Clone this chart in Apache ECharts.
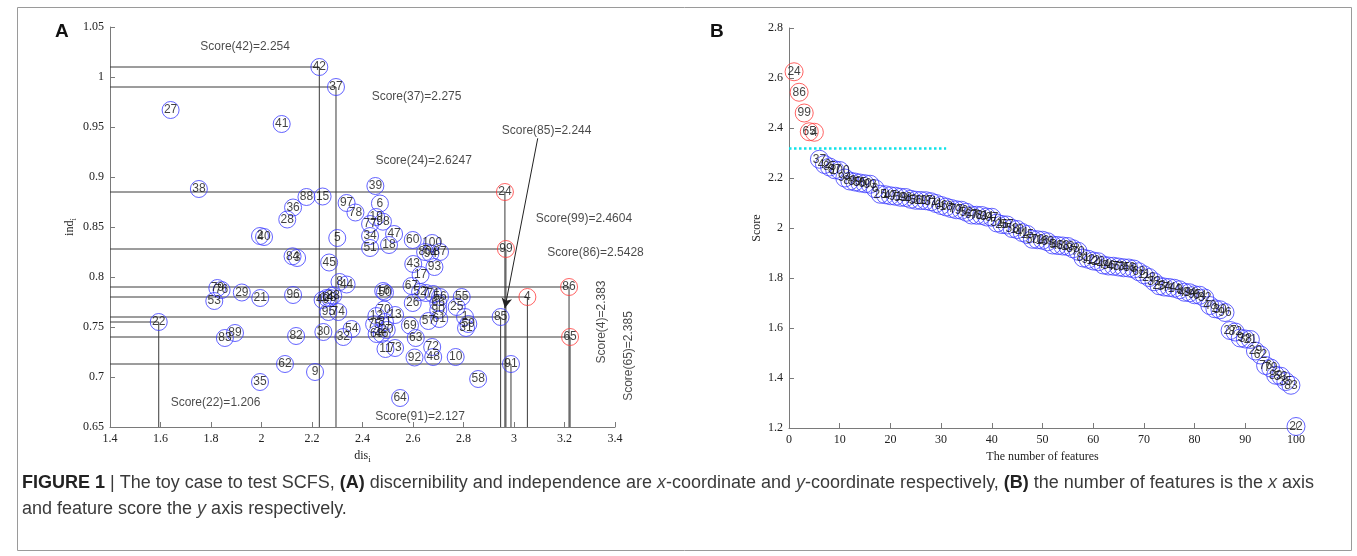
<!DOCTYPE html>
<html><head><meta charset="utf-8">
<script src="https://cdn.jsdelivr.net/npm/echarts@6/dist/echarts.min.js"></script>
<style>html,body{margin:0;padding:0;background:#fff}#c{width:1357px;height:556px}</style>
</head><body><div id="c"></div>
<script>
// ---------- Panel A: discernibility (dis_i) and independence (ind_i) of features 1..100 ----------
const featDis = [2.806,1.994,2.141,3.053,2.300,2.469,2.651,2.309,2.212,2.769,
 2.491,2.455,2.529,2.258,2.242,2.482,2.630,2.505,2.454,2.496,
 1.995,1.593,2.271,2.964,2.773,2.599,1.640,2.102,1.922,2.245,
 2.810,2.324,2.284,2.430,1.994,2.125,2.295,1.752,2.451,2.010,
 2.080,2.229,2.601,2.337,2.268,2.476,2.525,2.680,2.242,2.489,
 2.430,2.628,1.813,2.357,2.793,2.707,2.661,2.858,2.819,2.599,
 2.704,2.093,2.611,2.549,3.222,2.700,2.594,2.456,2.588,2.485,
 2.680,2.676,2.529,2.304,2.446,1.842,2.430,2.372,1.825,2.648,
 2.489,2.137,1.855,2.123,2.947,3.218,2.707,2.178,1.895,2.700,
 2.988,2.606,2.685,2.669,2.265,2.125,2.337,2.481,2.968,2.676];
const featInd = [0.760,0.841,0.819,0.780,0.839,0.8735,0.784,0.795,0.705,0.720,
 0.728,0.761,0.762,0.779,0.8805,0.786,0.802,0.832,0.860,0.747,
 0.779,0.755,0.779,0.885,0.770,0.774,0.967,0.8575,0.7845,0.745,
 0.749,0.740,0.7815,0.841,0.695,0.8695,0.990,0.888,0.891,0.840,
 0.953,1.010,0.813,0.7925,0.8145,0.743,0.843,0.720,0.777,0.7845,
 0.829,0.785,0.776,0.748,0.780,0.780,0.756,0.698,0.753,0.837,
 0.758,0.713,0.739,0.679,0.740,0.774,0.791,0.743,0.7515,0.7675,
 0.783,0.730,0.729,0.765,0.7527,0.787,0.853,0.8645,0.789,0.825,
 0.755,0.741,0.739,0.8207,0.760,0.790,0.825,0.880,0.744,0.767,
 0.713,0.7195,0.810,0.8237,0.765,0.782,0.874,0.8553,0.828,0.834];
const redFeatures = [24,99,86,4,65];
const guideFeatures = [42,37,24,99,86,4,85,22,65,91];
const scoreNotes = ['Score(42)=2.254','Score(37)=2.275','Score(85)=2.244','Score(24)=2.6247',
 'Score(99)=2.4604','Score(86)=2.5428','Score(4)=2.383','Score(65)=2.385','Score(22)=1.206','Score(91)=2.127'];

// ---------- Panel B: features sorted by score ----------
const rankLabels = [24,86,99,65,4,37,42,85,87,100,94,80,39,55,60,93,6,25,1,47,
 91,59,98,43,56,19,17,31,71,66,18,7,77,90,52,67,78,61,34,97,
 51,26,57,58,10,41,15,50,72,16,69,5,48,63,13,88,70,81,92,12,
 20,44,36,45,73,75,46,8,68,11,28,33,23,54,74,14,3,49,84,95,
 64,32,40,2,30,96,27,82,9,38,21,29,62,76,79,89,53,35,83,22];
const rankScores = [2.625,2.543,2.460,2.385,2.383,2.275,2.254,2.244,2.233,2.230,
 2.200,2.188,2.184,2.180,2.177,2.175,2.157,2.135,2.133,2.129,
 2.127,2.123,2.122,2.115,2.111,2.110,2.109,2.105,2.098,2.090,
 2.084,2.078,2.073,2.071,2.063,2.052,2.051,2.050,2.044,2.043,
 2.020,2.014,2.012,1.998,1.994,1.982,1.974,1.955,1.953,1.951,
 1.945,1.932,1.930,1.928,1.926,1.917,1.907,1.880,1.875,1.868,
 1.865,1.852,1.848,1.847,1.844,1.841,1.840,1.836,1.825,1.813,
 1.802,1.785,1.769,1.764,1.762,1.759,1.753,1.743,1.741,1.733,
 1.731,1.720,1.690,1.677,1.673,1.662,1.590,1.584,1.560,1.556,
 1.554,1.508,1.492,1.450,1.440,1.411,1.407,1.386,1.371,1.206];
const thresholdScore = 2.32;
const thresholdEndRank = 31;

// ---------- layout (not data) ----------
const A_X = {min:1.4, max:3.4, interval:0.2};
const A_Y = {min:0.65, max:1.05, interval:0.05};
const B_X = {min:0, max:100, interval:10};
const B_Y = {min:1.2, max:2.8, interval:0.2};
// annotation anchors in panel-A data coordinates: [x, y, rotate]
const noteAnchors = [[1.935,1.030,0],[2.614,0.980,0],[3.129,0.946,0],[2.642,0.916,0],
 [3.277,0.858,0],[3.323,0.824,0],[3.349,0.755,90],[3.455,0.721,90],[1.818,0.674,0],[2.628,0.660,0]];
const arrowFrom = [3.094,0.9387], arrowTo = [2.964,0.769];

const BLUE = '#3c3cff', RED = '#ff3c3c';
const serif = 'Liberation Serif';
const sans = 'Liberation Sans';

function axisCommon(o){
  return Object.assign({
    type:'value', scale:false,
    axisLine:{show:true, lineStyle:{color:'#7a7a7a', width:1}},
    axisTick:{show:true, inside:true, length:5, lineStyle:{color:'#7a7a7a'}},
    axisLabel:{color:'#222', fontFamily:serif, fontSize:12, margin:6},
    splitLine:{show:false},
    nameTextStyle:{color:'#222', fontFamily:serif, fontSize:12}
  }, o);
}

const labelStyle = {show:true, position:'inside', formatter:'{b}', color:'#111', fontFamily:sans, fontSize:12};

function pointObjs(filterFn){
  const out=[];
  for(let i=0;i<featDis.length;i++){
    if(filterFn(i+1)) out.push({name:String(i+1), value:[featDis[i], featInd[i]]});
  }
  return out;
}

const series = [];
guideFeatures.forEach(f=>{
  const x=featDis[f-1], y=featInd[f-1];
  series.push({type:'line', xAxisIndex:0, yAxisIndex:0, silent:true, symbol:'none', z:1,
    lineStyle:{color:'#3a3a3a', width:1}, animation:false,
    data:[[A_X.min,y],[x,y],[x,A_Y.min]]});
});
series.push({type:'scatter', xAxisIndex:0, yAxisIndex:0, symbolSize:17, z:3, animation:false,
  itemStyle:{color:'rgba(0,0,0,0)', borderColor:BLUE, borderWidth:1},
  label:labelStyle, data:pointObjs(f=>redFeatures.indexOf(f)<0)});
series.push({type:'scatter', xAxisIndex:0, yAxisIndex:0, symbolSize:17, z:3, animation:false,
  itemStyle:{color:'rgba(0,0,0,0)', borderColor:RED, borderWidth:1},
  label:labelStyle, data:pointObjs(f=>redFeatures.indexOf(f)>=0),
  markLine:{silent:true, symbol:['none','arrow'], symbolSize:[8,10], animation:false,
    lineStyle:{color:'#222', width:1, type:'solid'}, label:{show:false},
    data:[[{coord:arrowFrom},{coord:arrowTo}]]}});
series.push({type:'scatter', xAxisIndex:0, yAxisIndex:0, symbolSize:0, clip:false, z:4, animation:false, silent:true,
  data: scoreNotes.map((t,i)=>({name:t, value:[noteAnchors[i][0], noteAnchors[i][1]],
    label:{show:true, position:'inside', formatter:'{b}', rotate:noteAnchors[i][2], color:'#1a1a1a', fontFamily:sans, fontSize:12}}))});

const bBlue=[], bRed=[];
rankScores.forEach((v,i)=>{
  const o={name:String(rankLabels[i]), value:[i+1, v]};
  (redFeatures.indexOf(rankLabels[i])>=0 ? bRed : bBlue).push(o);
});
series.push({type:'scatter', xAxisIndex:1, yAxisIndex:1, symbolSize:18, z:3, animation:false, clip:false,
  itemStyle:{color:'rgba(0,0,0,0)', borderColor:BLUE, borderWidth:1}, label:labelStyle, data:bBlue,
  markLine:{silent:true, symbol:'none', animation:false, label:{show:false},
    lineStyle:{color:'#12e2e8', width:2.5, type:'dotted'},
    data:[[{coord:[B_X.min, thresholdScore]},{coord:[thresholdEndRank, thresholdScore]}]]}});
series.push({type:'scatter', xAxisIndex:1, yAxisIndex:1, symbolSize:18, z:3, animation:false, clip:false,
  itemStyle:{color:'rgba(0,0,0,0)', borderColor:RED, borderWidth:1}, label:labelStyle, data:bRed});

const captionLine1 = '{b|FIGURE 1} | The toy case to test SCFS, {b|(A)} discernibility and independence are {i|x}-coordinate and {i|y}-coordinate respectively, {b|(B)} the number of features is the {i|x} axis';
const captionLine2 = 'and feature score the {i|y} axis respectively.';
const capFont = 'Liberation Sans';
const capSize = 18;
const capRich = {b:{fontWeight:'bold', fontFamily:capFont, fontSize:capSize, fill:'#222'}, i:{fontStyle:'italic', fontFamily:capFont, fontSize:capSize, fill:'#444'}};

const chart = echarts.init(document.getElementById('c'), null, {renderer:'canvas'});
chart.setOption({
  backgroundColor:'#fff',
  animation:false,
  grid:[{left:110, top:27, width:505, height:400},{left:789, top:28, width:507, height:400}],
  xAxis:[
    axisCommon(Object.assign({gridIndex:0, name:'{n|dis}{s|i}', nameLocation:'middle', nameGap:19,
      nameTextStyle:{rich:{n:{fontFamily:serif, fontSize:12, color:'#222'}, s:{fontFamily:serif, fontSize:9, color:'#222', padding:[8,0,0,0]}}}}, A_X)),
    axisCommon(Object.assign({gridIndex:1, name:'The number of features', nameLocation:'middle', nameGap:18}, B_X))
  ],
  yAxis:[
    axisCommon(Object.assign({gridIndex:0, name:'{n|ind}{s|i}', nameLocation:'middle', nameGap:32, nameRotate:90,
      nameTextStyle:{rich:{n:{fontFamily:serif, fontSize:12, color:'#222'}, s:{fontFamily:serif, fontSize:9, color:'#222', padding:[8,0,0,0]}}}}, A_Y)),
    axisCommon(Object.assign({gridIndex:1, name:'Score', nameLocation:'middle', nameGap:26, nameRotate:90}, B_Y))
  ],
  series: series,
  graphic:[
    {type:'rect', shape:{x:17.5, y:7.5, width:1334, height:543}, style:{fill:'none', stroke:'#9a9a9a', lineWidth:1}, silent:true},
    {type:'text', left:55, top:22, style:{text:'A', font:'bold 19px Liberation Sans', fill:'#111'}},
    {type:'text', left:710, top:22, style:{text:'B', font:'bold 19px Liberation Sans', fill:'#111'}},
    {type:'text', left:22, top:474, style:{text:captionLine1, rich:capRich, font:capSize+'px '+capFont, fill:'#3a3a3a'}},
    {type:'text', left:22, top:500, style:{text:captionLine2, rich:capRich, font:capSize+'px '+capFont, fill:'#3a3a3a'}}
  ]
});
</script></body></html>
